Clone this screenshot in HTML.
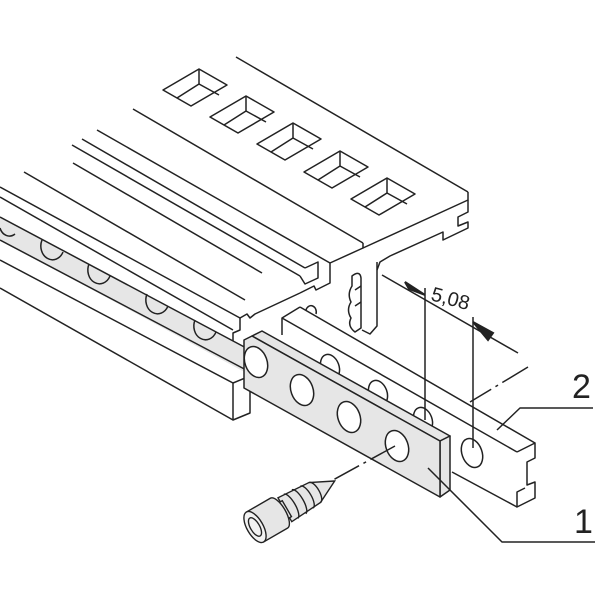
<!DOCTYPE html>
<html><head><meta charset="utf-8"><style>
html,body{margin:0;padding:0;background:#fff}
svg{display:block}
text{font-family:"Liberation Sans",sans-serif;fill:#222}
</style></head><body>
<svg width="600" height="600" viewBox="0 0 600 600" xmlns="http://www.w3.org/2000/svg">
<defs>
<g id="sq" fill="none" stroke="#222" stroke-width="1.5">
<polygon points="0,0 28,16 -8,37 -36,21"/>
<polyline points="0,0 0,15 -22,29"/>
<line x1="0" y1="15" x2="20" y2="26"/>
</g>
</defs>
<g fill="none" stroke="#222" stroke-width="1.5" stroke-linejoin="round">
<line x1="236" y1="57" x2="468" y2="192"/>
<line x1="133" y1="109" x2="363" y2="243"/>
<polyline points="468,192 468,200 363,248 363,243"/>
<polyline points="468,200 468,212 458,217 458,226 468,222 468,228 443,240 443,232 390,256 380,262 377,270"/>
<use href="#sq" x="199" y="69"/>
<use href="#sq" x="246" y="96"/>
<use href="#sq" x="293" y="123"/>
<use href="#sq" x="340" y="151"/>
<use href="#sq" x="387" y="178"/>
<line x1="97" y1="130" x2="330" y2="263"/>
<polyline points="363,248 330,263 330,283 316,290 314,286 300,293"/>
<line x1="82" y1="139" x2="305" y2="268"/>
<line x1="72" y1="145" x2="300" y2="276"/>
<polyline points="305,268 318,262 318,278 305,284 300,276"/>
<line x1="73" y1="163" x2="262" y2="273"/>
<line x1="24" y1="172" x2="245" y2="300"/>
<polyline points="300,293 255,314 250,318 247,314 240,318"/>
<line x1="0" y1="187" x2="240" y2="318"/>
<line x1="0" y1="197" x2="233" y2="330"/>
<polyline points="240,318 240,330 233,333 233,345 240,348 240,360 250,356"/>
<polyline points="377,262 377,326 370,334 362,330"/>
<path d="M352,276 q8,-6 9,2 v50 l-6,4 q-8,-6 -4,-14 q-5,-8 0,-16 q-4,-8 1,-16z"/>
<line x1="355" y1="290" x2="361" y2="286"/>
<line x1="355" y1="306" x2="361" y2="302"/>
<polygon points="0,217 250,350 250,375 0,240" fill="#e6e6e6" stroke="none"/>
<line x1="0" y1="217" x2="250" y2="350"/>
<line x1="0" y1="240" x2="250" y2="372"/>
<path d="M0,228 a10,12 0 0 0 15,6"/>
<path d="M42,240 a11,13 0 0 0 21,12"/>
<path d="M89,264 a11,13 0 0 0 21,12"/>
<path d="M147,294 a11,13 0 0 0 21,12"/>
<path d="M195,320 a11,13 0 0 0 21,12"/>
<line x1="0" y1="260" x2="233" y2="383"/>
<line x1="0" y1="288" x2="233" y2="420"/>
<polyline points="233,383 250,376 250,413 233,420 233,383"/>
<polyline points="300,307 282,318 282,335"/>
<line x1="300" y1="307" x2="535" y2="443"/>
<line x1="282" y1="318" x2="517" y2="452"/>
<polyline points="517,452 535,443 535,458 527,462 527,485 535,482 535,498 517,507 517,492 525,488 a8,10 0 0 0 -8,-20 v-16"/>
<line x1="452" y1="472" x2="517" y2="507"/>
<path d="M306,310 a5,6 0 0 1 10,4"/>
<ellipse cx="330" cy="367" rx="9" ry="13" transform="rotate(-20 330 367)"/>
<ellipse cx="378" cy="393" rx="9" ry="13" transform="rotate(-20 378 393)"/>
<ellipse cx="423" cy="420" rx="9" ry="13" transform="rotate(-20 423 420)"/>
<ellipse cx="472" cy="453" rx="10" ry="15" transform="rotate(-20 472 453)"/>
<polygon points="252,336 262,331 450,436 440,441" fill="#e6e6e6"/>
<polygon points="440,441 450,436 450,490 440,497" fill="#e6e6e6"/>
<polygon points="252,336 440,441 440,497 244,388 244,340" fill="#e6e6e6"/>
<ellipse cx="256" cy="362" rx="11" ry="16" transform="rotate(-20 256 362)" fill="#fff"/>
<ellipse cx="302" cy="390" rx="11" ry="16" transform="rotate(-20 302 390)" fill="#fff"/>
<ellipse cx="349" cy="417" rx="11" ry="16" transform="rotate(-20 349 417)" fill="#fff"/>
<ellipse cx="397" cy="446" rx="11" ry="16" transform="rotate(-20 397 446)" fill="#fff"/>
<line x1="425" y1="288" x2="425" y2="420"/>
<line x1="473" y1="317" x2="473" y2="448"/>
<line x1="382" y1="275" x2="518" y2="353"/>
<line x1="528" y1="367" x2="470" y2="402" stroke-dasharray="30,5,3,5"/>
<line x1="395" y1="446" x2="333" y2="480" stroke-dasharray="28,5,3,5"/>
<polyline points="497,430 520,408 593,408"/>
<polyline points="428,468 502,542 595,542"/>
</g>
<polygon points="425,295 405,282 409,289" fill="#222" stroke="#222" stroke-width="2"/>
<polygon points="473,322 493,333 488,340" fill="#222" stroke="#222" stroke-width="2"/>
<text x="430" y="300" font-size="20" transform="rotate(15 430 300)">5,08</text>
<text x="572" y="398" font-size="34">2</text>
<text x="574" y="533" font-size="34">1</text>
<g transform="translate(255,527) rotate(-30) scale(1.15)" fill="#e6e6e6" stroke="#222" stroke-width="1.2">
<path d="M80,0 L60,-10 L30,-12 L30,12 L60,10 Z"/>
<path d="M36,-12 a4,12 0 0 1 0,24 M44,-12 a4,12 0 0 1 0,24 M52,-11 a4,11 0 0 1 0,22 M60,-10 a4,10 0 0 1 0,20" fill="none"/>
<rect x="22" y="-8" width="10" height="16"/>
<path d="M0,-15 L24,-15 a6,15 0 0 1 0,30 L0,15 Z"/>
<ellipse cx="0" cy="0" rx="7" ry="15" fill="#f2f2f2"/>
<ellipse cx="0" cy="0" rx="4" ry="9" fill="none"/>
</g>
</svg>
</body></html>
